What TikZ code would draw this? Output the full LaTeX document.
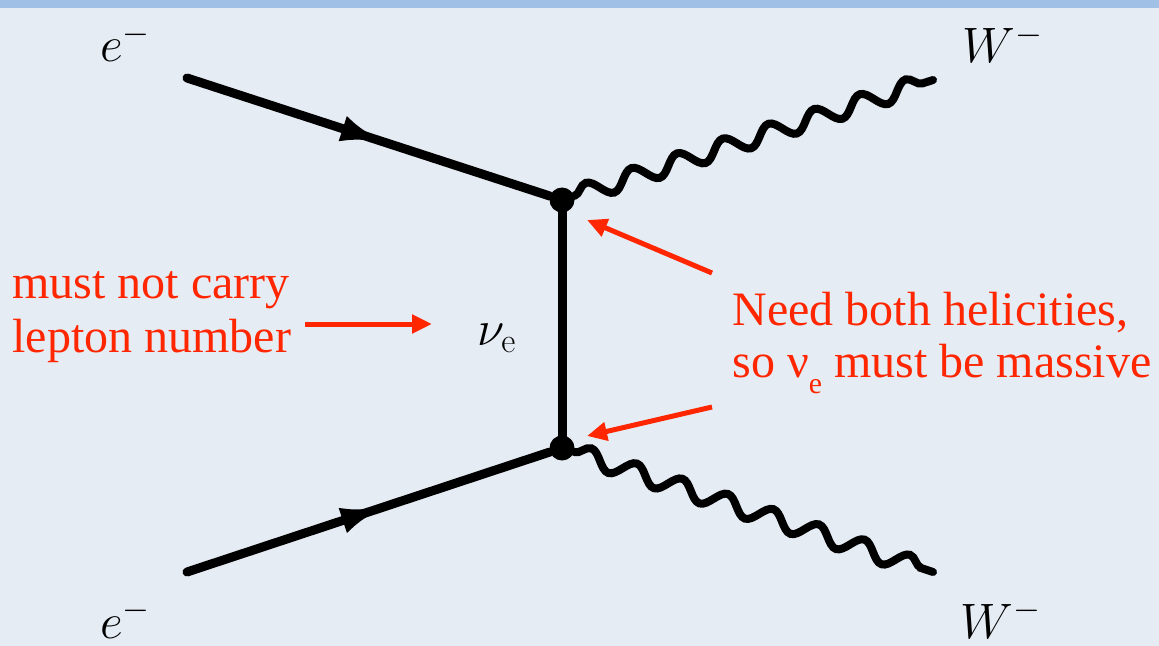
\documentclass[tikz,border=0pt]{standalone}
\usepackage[no-math]{fontspec}
\setmainfont{Liberation Serif}
\usetikzlibrary{arrows.meta,decorations.markings,decorations.pathmorphing}
\definecolor{bg}{RGB}{230,236,244}
\definecolor{topstrip}{RGB}{160,192,230}
\definecolor{annot}{RGB}{255,38,0}
\begin{document}
\begin{tikzpicture}[x=0.5pt,y=-0.5pt,
  fermion/.style={line width=4.5pt, line cap=round, postaction={decorate},
    decoration={markings, mark=at position 0.55 with {\arrow{Latex[length=23pt,width=13pt]}}}},
  boson/.style={line width=4pt, line cap=round, decorate,
    decoration={snake, segment length=24pt, amplitude=4.5pt, post length=1pt}},
  prop/.style={line width=4.5pt},
  vtx/.style={circle, fill=black, inner sep=0pt, minimum size=12.5pt},
  lab/.style={inner sep=0pt, font=\fontsize{36}{40}\selectfont},
  nulab/.style={inner sep=0pt, font=\fontsize{26}{30}\selectfont},
  note/.style={inner sep=0pt, text=annot, font=\fontsize{24}{26.5}\selectfont},
  pointer/.style={draw=annot, line width=2.5pt, -{Triangle[length=10pt,width=9pt]}}
]
\useasboundingbox (0,0) rectangle (1159,646);
\fill[bg] (0,0) rectangle (1159,646);
\fill[topstrip] (0,0) rectangle (1159,8);

% vertices
\node[vtx] (v1) at (562,200) {};
\node[vtx] (v2) at (562,448) {};
% external ends
\coordinate (e1) at (187,78);
\coordinate (e2) at (187,572);
\coordinate (w1) at (933,80);
\coordinate (w2) at (933,572);

\draw[fermion] (e1) -- (v1);
\draw[fermion] (e2) -- (v2);
\draw[prop] (v1.center) -- (v2.center);
\draw[boson] (v1) -- (w1);
\draw[boson] (v2) -- (w2);

% particle labels
\node[lab, anchor=base west] (le1) at (100,62) {$e^{\scriptscriptstyle -}$};
\node[lab, anchor=base west] (le2) at (100,638) {$e^{\scriptscriptstyle -}$};
\node[lab, anchor=base west] (lw1) at (962,63) {$W^{\scriptscriptstyle -}$};
\node[lab, anchor=base west] (lw2) at (960,638) {$W^{\scriptscriptstyle -}$};
\node[nulab, anchor=base west] (lnu) at (477,345) {$\nu_{\mathrm{e}}$};

% annotations
\node[note, anchor=base west] (n1a) at (12,299) {must not carry};
\node[note, anchor=base west] (n1b) at (12,352) {lepton number};
\node[note, anchor=base west] (n2a) at (732,325) {Need both helicities,};
\node[note, anchor=base west] (n2b) at (732,377) {so ν\raisebox{-8pt}{\scalebox{0.62}{e}} must be massive};

\coordinate (p1s) at (305,324);
\coordinate (p1e) at (432,324);
\coordinate (p2s) at (712,273);
\coordinate (p2e) at (587,220);
\coordinate (p3s) at (712,407);
\coordinate (p3e) at (587,436);
\draw[pointer] (p1s) -- (p1e);
\draw[pointer] (p2s) -- (p2e);
\draw[pointer] (p3s) -- (p3e);
\end{tikzpicture}
\end{document}
